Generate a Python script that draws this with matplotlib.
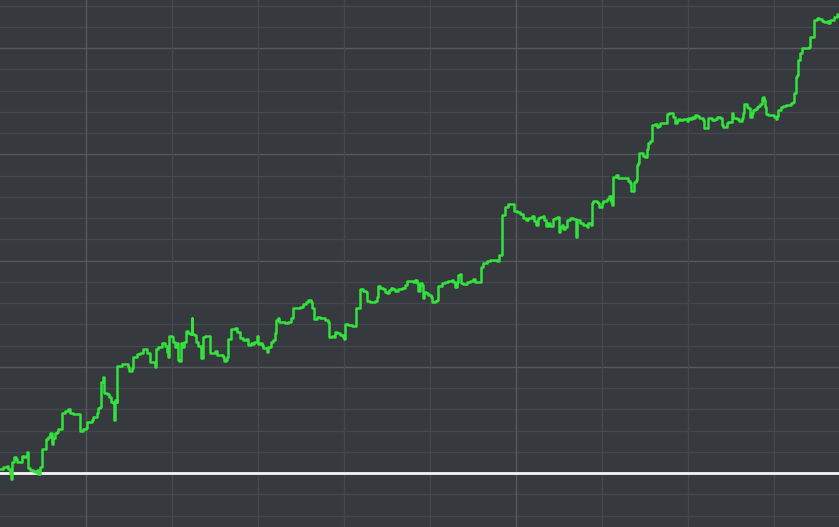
import numpy as np
import matplotlib
matplotlib.use('Agg')
import matplotlib.pyplot as plt

# Equity curve (trade number, cumulative result)
trades = [0, 3.3, 6.7, 8.3, 10, 11, 12.3, 14, 15.7, 17.3, 20, 21.7, 24, 26, 26.7, 28, 30, 33.3, 35, 36.7,
          38.3, 40, 42.3, 44.3, 45.7, 48.3, 50, 51.7, 52.7, 55, 56.7, 58.3, 61.7, 62, 65, 67.7, 70, 73.3, 78.3, 80,
          83.3, 86, 87.3, 91.7, 93.3, 96.7, 98.3, 100, 100.7, 102.7, 104, 106.7, 109, 110.7, 113.3, 114, 115.3, 116.7, 117.3, 121.7,
          126, 128.3, 129.3, 131.7, 133.3, 136.7, 140, 143.3, 146.7, 150, 155, 156, 158.3, 161.7, 165, 166.7, 168.3, 169.3, 171.7, 173.3,
          175, 176.7, 178.3, 179.3, 180.7, 182.7, 184, 186, 188.3, 190, 191.7, 192.3, 194, 196, 198.3, 200.7, 202.7, 205, 208.3, 210,
          213.3, 215, 216.7, 220, 222.7, 224, 226, 227.3, 228.3, 230.7, 235, 237.3, 240, 243.3, 246, 248.3, 250.7, 252.7, 254.3, 256.7,
          258.3, 260, 261.7, 263.3, 266.7, 268.3, 270.7, 273.3, 275, 276, 278.3, 279.3, 280, 281.7, 285, 288.3, 290.7, 293.3, 296.7, 300,
          302.7, 306, 308.3, 310.7, 312.3, 314.3, 316.7, 320, 325, 327.7, 328.7, 331.7, 334, 335, 337.3, 340, 342.7, 344, 345.3, 348.3,
          351.7, 355, 355.7, 358.3, 360, 363.3, 366, 367.3, 370, 375, 376.7, 377.7, 380, 382.7, 385, 386.7, 388.7, 390.7, 393.3, 395,
          398.3, 401.7, 405, 406.7, 410, 412.7, 415, 417.3, 418.3, 420, 421.7, 422.7, 424, 426, 428.3, 430.7, 432.3, 435, 436.7, 438.3,
          441.7, 445, 448.3, 451.7, 453.3, 455, 456.7, 458.3, 460, 461, 463.3, 466.7, 470, 472.7, 475, 478.3, 480, 481, 483.3, 486.7,
          490, 493.3, 496.7, 498.3, 499, 501.7, 502.3, 505, 508.3, 513.3, 514, 517.3, 520, 523.3, 526, 528.3, 531.7, 534.3, 536, 538.3,
          540, 542.7, 544, 546, 548.3, 550, 552.7, 555, 557.3, 558.7, 560, 561.7, 563.3, 565, 566.7, 570, 573.3, 575.7, 576.7, 580,
          583.3, 586.7, 588.3, 590.7, 591.7, 593.3, 596.7, 598.3, 599.3, 601.7, 603.3, 606.7, 609.3, 610.7, 611.7, 612.7, 613.3, 616, 618.3, 621.7,
          625, 628.3, 630, 630.7, 633.3, 634, 636, 636.7, 638.3, 639, 641.7, 643.3, 645, 646.7, 648.3, 650, 651.7, 655, 656.7, 658.3,
          660, 661.7, 665, 666.7, 669.3, 671.7, 673.3, 675, 676.7, 678.3, 680, 683.3, 686.7, 688.3, 690, 691.7, 693.3, 695, 697.3, 699.3,
          700, 702.7, 704, 706.7, 708.3, 711.7, 715, 717.3, 720, 721.7, 723.3, 725, 726.7, 728.3, 731.7, 732.3, 733.3, 736.7, 739.3, 741.7,
          742.7, 744.3, 746.7, 748.3, 750, 751.7, 753.3, 755, 756.7, 758.3, 760, 761.7, 762.7, 764, 765, 766, 768.3, 771.7, 774, 776,
          777.3, 778.3, 780.7, 783.3, 786, 788.3, 790.7, 792.7, 794, 796, 797.3, 798.3, 800, 801.7, 804, 807.3, 808.7, 810, 811.7, 813.3,
          814, 816.7, 819.3, 821.7, 824, 826.7, 828.3, 830, 832.7, 834, 836.7, 839]
equity = [4, 5.7, 7, 4, -0.3, -6, 11.3, 15.7, 13.7, 11.3, 11.3, 17, 15.7, 17, 21.3, 4.7, 3, 2.3, 1.3, 3,
          -1, 5.7, 24.3, 24.3, 33.7, 36.3, 39.7, 29, 34.7, 39.7, 41.3, 43.7, 44.7, 59.7, 62, 63.7, 60.3, 58.7, 58.7, 42,
          43.7, 45.3, 50.7, 53, 56.3, 60.3, 64.7, 66.3, 91.3, 95.7, 80.3, 79, 75.7, 71.3, 70.3, 53, 73, 71.3, 107, 109,
          109, 106.3, 102.3, 104.7, 116.3, 119, 119.7, 123.7, 119.7, 111.3, 105.7, 123.7, 125.7, 129.7, 127, 121.3, 116.3, 137, 135.7, 131.3,
          126.3, 129.7, 113, 112.3, 130.3, 126.3, 131.3, 142.3, 139.7, 139, 154.7, 139, 138, 131.3, 127, 114.7, 136.3, 137, 137, 120.3,
          119.7, 122.3, 118, 118, 116.3, 112.3, 113, 116.3, 133.7, 143.7, 144.7, 141.3, 134.7, 133, 133.7, 128, 130.3, 128.7, 131.3, 137,
          129, 129.7, 128, 124.7, 121.3, 126.3, 131.3, 133, 139.7, 153, 154.7, 151.3, 151.3, 150.7, 149.7, 151.3, 155.3, 164.7, 165.3, 166.3,
          168.7, 171.3, 172.7, 170.7, 164.7, 154, 156.3, 155.3, 153, 150.7, 136.3, 137.3, 136.3, 141.3, 139.7, 138, 136.3, 134, 148.7, 148,
          147.3, 147, 164.7, 164.7, 183.7, 182, 181.3, 172, 171.3, 172, 176.3, 187.3, 185.3, 184, 181.3, 179.7, 183, 184.7, 184, 182,
          183.7, 184.7, 188, 192, 192, 190.7, 193, 189.7, 182, 189.7, 188, 174.7, 181.3, 179.7, 178, 176.3, 170.7, 172, 173, 187.3,
          189.7, 190.7, 192, 193, 190.7, 186.3, 191.3, 198, 198.7, 189.7, 188.7, 190.7, 192, 194, 191.3, 190.7, 190.7, 206.3, 209.7, 212,
          213, 213, 212, 212, 218, 218.7, 258, 266.3, 268.7, 268.7, 262, 260.7, 258.7, 255.3, 253, 255.3, 257.3, 252, 248, 254.7,
          256.3, 257.3, 253, 247.3, 249.7, 247.3, 254, 255.3, 256.3, 241.3, 246.3, 248, 243.7, 246.3, 253, 254.7, 253.7, 236.3, 253, 250.3,
          248, 246.3, 249.7, 248, 270.3, 272.3, 271.3, 269.7, 266.3, 269.7, 272.3, 273.7, 277, 271.3, 268, 279.7, 296.3, 298, 294.7, 294.7,
          294.7, 292.3, 289.7, 282, 282, 291.3, 293, 308, 310.3, 319.7, 319.7, 317, 316.3, 323.7, 329.7, 332.3, 348, 349, 345.7, 347,
          349.7, 350.3, 349.7, 359, 360.3, 359.7, 355.7, 350.3, 352.3, 353.7, 353, 353.7, 352.3, 354.7, 353.7, 355.7, 354.7, 358, 357, 354.7,
          354.7, 353, 344.7, 344.7, 354.7, 353, 353.7, 355.7, 354.7, 348, 345.7, 346.3, 349.7, 351.3, 352.3, 360.3, 354.7, 353.7, 352.3, 354.7,
          360.3, 369, 365.7, 364.7, 355.7, 359.7, 363, 363.7, 365.7, 367, 369, 374.7, 375.7, 373, 366.3, 359, 358, 358, 356.3, 353.7,
          357, 363, 365.7, 367, 368, 368, 370.3, 371.3, 379.7, 396.3, 398, 413, 419.7, 424.7, 425.3, 424.7, 426.3, 435.7, 436.3, 436.3,
          453, 454.7, 453.7, 452.3, 451.3, 452.3, 450.3, 453, 453, 456.3, 459, 457]

# grid positions
x_minor = [171.7, 257.7, 343.7, 429.7, 601.7, 687.7, 773.7]
x_major = [85.7, 515.7]
y_step = 21.25

fig = plt.figure(figsize=(8.39, 5.27), dpi=100)
fig.patch.set_facecolor('#36393d')
ax = fig.add_axes([0, 0, 1, 1])
ax.set_facecolor('#36393d')
ax.set_xlim(0, 839)
ax.set_ylim(-54, 473)

for i in range(-2, 23):
    col = '#55585c' if i % 5 == 0 else '#44474b'
    ax.axhline(i * y_step, color=col, lw=1.0, zorder=1)
for x in x_minor:
    ax.axvline(x, color='#44474b', lw=1.0, zorder=1)
for x in x_major:
    ax.axvline(x, color='#55585c', lw=1.0, zorder=1)

ax.axhline(0, color='#f4f4f4', lw=2.0, zorder=2)
ax.plot(trades, equity, drawstyle='steps-post', color='#33e23c', lw=1.8, zorder=3)

ax.set_xticks([])
ax.set_yticks([])
for s in ax.spines.values():
    s.set_visible(False)

plt.savefig('out.png', dpi=100, facecolor=fig.get_facecolor())
